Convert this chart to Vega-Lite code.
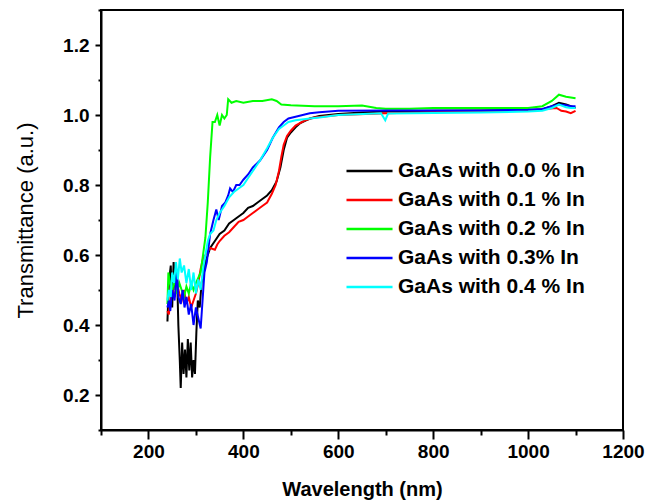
{
  "$schema": "https://vega.github.io/schema/vega-lite/v6.json",
  "width": 522,
  "height": 420,
  "autosize": "none",
  "padding": {"left": 101, "top": 10, "right": 22, "bottom": 71},
  "background": "white",
  "config": {
    "font": "Liberation Sans",
    "view": {"stroke": "black", "strokeWidth": 2}
  },
  "data": {"values": [
    {"s":"0.0","w":240,"t":0.41},{"s":"0.0","w":243,"t":0.52},{"s":"0.0","w":247,"t":0.57},{"s":"0.0","w":250,"t":0.45},{"s":"0.0","w":253,"t":0.58},{"s":"0.0","w":257,"t":0.5},{"s":"0.0","w":260,"t":0.56},{"s":"0.0","w":263,"t":0.4},{"s":"0.0","w":266,"t":0.3},{"s":"0.0","w":268,"t":0.22},{"s":"0.0","w":271,"t":0.35},{"s":"0.0","w":274,"t":0.26},{"s":"0.0","w":277,"t":0.33},{"s":"0.0","w":280,"t":0.25},{"s":"0.0","w":283,"t":0.36},{"s":"0.0","w":286,"t":0.27},{"s":"0.0","w":289,"t":0.35},{"s":"0.0","w":292,"t":0.25},{"s":"0.0","w":295,"t":0.3},{"s":"0.0","w":298,"t":0.26},{"s":"0.0","w":301,"t":0.38},{"s":"0.0","w":304,"t":0.47},{"s":"0.0","w":308,"t":0.45},{"s":"0.0","w":312,"t":0.52},{"s":"0.0","w":316,"t":0.55},{"s":"0.0","w":320,"t":0.58},{"s":"0.0","w":325,"t":0.6},{"s":"0.0","w":330,"t":0.62},{"s":"0.0","w":340,"t":0.64},{"s":"0.0","w":350,"t":0.66},{"s":"0.0","w":360,"t":0.67},{"s":"0.0","w":370,"t":0.69},{"s":"0.0","w":380,"t":0.7},{"s":"0.0","w":390,"t":0.71},{"s":"0.0","w":400,"t":0.72},{"s":"0.0","w":410,"t":0.735},{"s":"0.0","w":420,"t":0.74},{"s":"0.0","w":430,"t":0.75},{"s":"0.0","w":440,"t":0.76},{"s":"0.0","w":450,"t":0.77},{"s":"0.0","w":460,"t":0.785},{"s":"0.0","w":470,"t":0.81},{"s":"0.0","w":478,"t":0.85},{"s":"0.0","w":485,"t":0.9},{"s":"0.0","w":492,"t":0.935},{"s":"0.0","w":500,"t":0.95},{"s":"0.0","w":510,"t":0.965},{"s":"0.0","w":520,"t":0.977},{"s":"0.0","w":540,"t":0.99},{"s":"0.0","w":560,"t":0.997},{"s":"0.0","w":600,"t":1.003},{"s":"0.0","w":650,"t":1.007},{"s":"0.0","w":700,"t":1.01},{"s":"0.0","w":800,"t":1.012},{"s":"0.0","w":900,"t":1.013},{"s":"0.0","w":1000,"t":1.014},{"s":"0.0","w":1030,"t":1.016},{"s":"0.0","w":1050,"t":1.025},{"s":"0.0","w":1065,"t":1.035},{"s":"0.0","w":1080,"t":1.03},{"s":"0.0","w":1090,"t":1.025},{"s":"0.0","w":1100,"t":1.02},

    {"s":"0.1","w":240,"t":0.44},{"s":"0.1","w":243,"t":0.43},{"s":"0.1","w":246,"t":0.47},{"s":"0.1","w":250,"t":0.5},{"s":"0.1","w":255,"t":0.48},{"s":"0.1","w":260,"t":0.52},{"s":"0.1","w":265,"t":0.49},{"s":"0.1","w":270,"t":0.47},{"s":"0.1","w":275,"t":0.5},{"s":"0.1","w":280,"t":0.46},{"s":"0.1","w":285,"t":0.48},{"s":"0.1","w":290,"t":0.45},{"s":"0.1","w":295,"t":0.47},{"s":"0.1","w":300,"t":0.49},{"s":"0.1","w":305,"t":0.52},{"s":"0.1","w":310,"t":0.56},{"s":"0.1","w":315,"t":0.59},{"s":"0.1","w":320,"t":0.6},{"s":"0.1","w":325,"t":0.61},{"s":"0.1","w":330,"t":0.62},{"s":"0.1","w":340,"t":0.615},{"s":"0.1","w":345,"t":0.63},{"s":"0.1","w":350,"t":0.64},{"s":"0.1","w":360,"t":0.655},{"s":"0.1","w":370,"t":0.665},{"s":"0.1","w":380,"t":0.68},{"s":"0.1","w":390,"t":0.695},{"s":"0.1","w":400,"t":0.7},{"s":"0.1","w":410,"t":0.71},{"s":"0.1","w":420,"t":0.72},{"s":"0.1","w":430,"t":0.73},{"s":"0.1","w":440,"t":0.74},{"s":"0.1","w":450,"t":0.75},{"s":"0.1","w":460,"t":0.775},{"s":"0.1","w":468,"t":0.8},{"s":"0.1","w":475,"t":0.84},{"s":"0.1","w":480,"t":0.88},{"s":"0.1","w":485,"t":0.915},{"s":"0.1","w":492,"t":0.94},{"s":"0.1","w":500,"t":0.955},{"s":"0.1","w":510,"t":0.97},{"s":"0.1","w":530,"t":0.985},{"s":"0.1","w":550,"t":0.993},{"s":"0.1","w":600,"t":1.0},{"s":"0.1","w":700,"t":1.005},{"s":"0.1","w":800,"t":1.008},{"s":"0.1","w":900,"t":1.01},{"s":"0.1","w":1000,"t":1.012},{"s":"0.1","w":1040,"t":1.018},{"s":"0.1","w":1060,"t":1.02},{"s":"0.1","w":1070,"t":1.012},{"s":"0.1","w":1080,"t":1.01},{"s":"0.1","w":1090,"t":1.005},{"s":"0.1","w":1100,"t":1.012},

    {"s":"0.2","w":240,"t":0.46},{"s":"0.2","w":242,"t":0.55},{"s":"0.2","w":245,"t":0.52},{"s":"0.2","w":250,"t":0.5},{"s":"0.2","w":255,"t":0.53},{"s":"0.2","w":260,"t":0.49},{"s":"0.2","w":265,"t":0.52},{"s":"0.2","w":270,"t":0.5},{"s":"0.2","w":275,"t":0.48},{"s":"0.2","w":280,"t":0.51},{"s":"0.2","w":285,"t":0.49},{"s":"0.2","w":290,"t":0.52},{"s":"0.2","w":295,"t":0.5},{"s":"0.2","w":300,"t":0.52},{"s":"0.2","w":310,"t":0.55},{"s":"0.2","w":315,"t":0.6},{"s":"0.2","w":320,"t":0.65},{"s":"0.2","w":325,"t":0.75},{"s":"0.2","w":330,"t":0.88},{"s":"0.2","w":335,"t":0.98},{"s":"0.2","w":340,"t":0.98},{"s":"0.2","w":345,"t":1.0},{"s":"0.2","w":350,"t":0.97},{"s":"0.2","w":355,"t":1.0},{"s":"0.2","w":360,"t":0.99},{"s":"0.2","w":365,"t":1.0},{"s":"0.2","w":368,"t":1.045},{"s":"0.2","w":375,"t":1.035},{"s":"0.2","w":385,"t":1.04},{"s":"0.2","w":400,"t":1.035},{"s":"0.2","w":420,"t":1.04},{"s":"0.2","w":440,"t":1.04},{"s":"0.2","w":460,"t":1.045},{"s":"0.2","w":470,"t":1.04},{"s":"0.2","w":480,"t":1.03},{"s":"0.2","w":500,"t":1.028},{"s":"0.2","w":550,"t":1.025},{"s":"0.2","w":600,"t":1.025},{"s":"0.2","w":650,"t":1.027},{"s":"0.2","w":680,"t":1.02},{"s":"0.2","w":700,"t":1.018},{"s":"0.2","w":750,"t":1.018},{"s":"0.2","w":800,"t":1.02},{"s":"0.2","w":850,"t":1.02},{"s":"0.2","w":900,"t":1.02},{"s":"0.2","w":950,"t":1.02},{"s":"0.2","w":1000,"t":1.02},{"s":"0.2","w":1030,"t":1.025},{"s":"0.2","w":1050,"t":1.04},{"s":"0.2","w":1065,"t":1.058},{"s":"0.2","w":1080,"t":1.052},{"s":"0.2","w":1090,"t":1.05},{"s":"0.2","w":1100,"t":1.048},

    {"s":"0.3","w":240,"t":0.45},{"s":"0.3","w":243,"t":0.47},{"s":"0.3","w":246,"t":0.44},{"s":"0.3","w":250,"t":0.5},{"s":"0.3","w":255,"t":0.47},{"s":"0.3","w":260,"t":0.55},{"s":"0.3","w":263,"t":0.48},{"s":"0.3","w":268,"t":0.46},{"s":"0.3","w":272,"t":0.5},{"s":"0.3","w":276,"t":0.45},{"s":"0.3","w":280,"t":0.48},{"s":"0.3","w":285,"t":0.43},{"s":"0.3","w":290,"t":0.46},{"s":"0.3","w":295,"t":0.4},{"s":"0.3","w":300,"t":0.45},{"s":"0.3","w":305,"t":0.42},{"s":"0.3","w":310,"t":0.39},{"s":"0.3","w":313,"t":0.45},{"s":"0.3","w":318,"t":0.55},{"s":"0.3","w":323,"t":0.58},{"s":"0.3","w":330,"t":0.66},{"s":"0.3","w":337,"t":0.7},{"s":"0.3","w":343,"t":0.73},{"s":"0.3","w":348,"t":0.7},{"s":"0.3","w":355,"t":0.74},{"s":"0.3","w":362,"t":0.75},{"s":"0.3","w":368,"t":0.77},{"s":"0.3","w":372,"t":0.79},{"s":"0.3","w":378,"t":0.78},{"s":"0.3","w":385,"t":0.8},{"s":"0.3","w":392,"t":0.8},{"s":"0.3","w":400,"t":0.815},{"s":"0.3","w":410,"t":0.83},{"s":"0.3","w":420,"t":0.85},{"s":"0.3","w":435,"t":0.87},{"s":"0.3","w":450,"t":0.9},{"s":"0.3","w":462,"t":0.935},{"s":"0.3","w":475,"t":0.965},{"s":"0.3","w":485,"t":0.98},{"s":"0.3","w":495,"t":0.99},{"s":"0.3","w":510,"t":0.995},{"s":"0.3","w":540,"t":1.005},{"s":"0.3","w":560,"t":1.008},{"s":"0.3","w":600,"t":1.012},{"s":"0.3","w":700,"t":1.013},{"s":"0.3","w":800,"t":1.013},{"s":"0.3","w":900,"t":1.013},{"s":"0.3","w":1000,"t":1.015},{"s":"0.3","w":1030,"t":1.017},{"s":"0.3","w":1050,"t":1.025},{"s":"0.3","w":1065,"t":1.03},{"s":"0.3","w":1080,"t":1.028},{"s":"0.3","w":1090,"t":1.025},{"s":"0.3","w":1100,"t":1.025},

    {"s":"0.4","w":240,"t":0.47},{"s":"0.4","w":243,"t":0.5},{"s":"0.4","w":247,"t":0.48},{"s":"0.4","w":250,"t":0.55},{"s":"0.4","w":254,"t":0.52},{"s":"0.4","w":258,"t":0.58},{"s":"0.4","w":262,"t":0.53},{"s":"0.4","w":266,"t":0.59},{"s":"0.4","w":270,"t":0.55},{"s":"0.4","w":275,"t":0.57},{"s":"0.4","w":280,"t":0.52},{"s":"0.4","w":285,"t":0.56},{"s":"0.4","w":290,"t":0.5},{"s":"0.4","w":295,"t":0.55},{"s":"0.4","w":300,"t":0.49},{"s":"0.4","w":305,"t":0.53},{"s":"0.4","w":310,"t":0.5},{"s":"0.4","w":315,"t":0.56},{"s":"0.4","w":320,"t":0.6},{"s":"0.4","w":325,"t":0.64},{"s":"0.4","w":330,"t":0.66},{"s":"0.4","w":337,"t":0.67},{"s":"0.4","w":343,"t":0.7},{"s":"0.4","w":350,"t":0.72},{"s":"0.4","w":360,"t":0.74},{"s":"0.4","w":370,"t":0.765},{"s":"0.4","w":380,"t":0.78},{"s":"0.4","w":390,"t":0.79},{"s":"0.4","w":400,"t":0.8},{"s":"0.4","w":410,"t":0.82},{"s":"0.4","w":420,"t":0.84},{"s":"0.4","w":435,"t":0.87},{"s":"0.4","w":450,"t":0.905},{"s":"0.4","w":462,"t":0.935},{"s":"0.4","w":475,"t":0.96},{"s":"0.4","w":485,"t":0.97},{"s":"0.4","w":495,"t":0.98},{"s":"0.4","w":510,"t":0.985},{"s":"0.4","w":540,"t":0.99},{"s":"0.4","w":560,"t":0.993},{"s":"0.4","w":600,"t":1.0},{"s":"0.4","w":690,"t":1.005},{"s":"0.4","w":699,"t":0.985},{"s":"0.4","w":705,"t":1.004},{"s":"0.4","w":800,"t":1.006},{"s":"0.4","w":900,"t":1.007},{"s":"0.4","w":1000,"t":1.01},{"s":"0.4","w":1030,"t":1.012},{"s":"0.4","w":1050,"t":1.02},{"s":"0.4","w":1065,"t":1.03},{"s":"0.4","w":1080,"t":1.022},{"s":"0.4","w":1090,"t":1.02},{"s":"0.4","w":1100,"t":1.02}
  ]},
  "mark": {"type": "line", "strokeWidth": 2},
  "encoding": {
    "x": {
      "field": "w", "type": "quantitative",
      "scale": {"domain": [100, 1200], "nice": false, "zero": false},
      "axis": {
        "title": "Wavelength (nm)",
        "values": [100,200,300,400,500,600,700,800,900,1000,1100,1200],
        "labelExpr": "datum.value % 200 === 0 ? datum.label : ''",
        "format": "d",
        "grid": false,
        "domainColor": "black", "domainWidth": 2,
        "tickColor": "black", "tickWidth": 2,
        "tickSize": {"condition": {"test": "datum.value % 200 === 0", "value": 9}, "value": 5},
        "labelFont": "Liberation Sans", "labelFontSize": 19, "labelFontWeight": "bold", "labelColor": "black",
        "labelPadding": 3, "labelFlush": false, "labelOverlap": false,
        "titleFont": "Liberation Sans", "titleFontSize": 20, "titleFontWeight": "bold", "titleColor": "black",
        "titlePadding": 18
      }
    },
    "y": {
      "field": "t", "type": "quantitative",
      "scale": {"domain": [0.1, 1.3], "nice": false, "zero": false},
      "axis": {
        "title": "Transmittance (a.u.)",
        "values": [0.1,0.2,0.3,0.4,0.5,0.6,0.7,0.8,0.9,1.0,1.1,1.2,1.3],
        "labelExpr": "(round(datum.value*10) % 2 === 0 && datum.value < 1.25) ? format(datum.value, '.1f') : ''",
        "grid": false,
        "domainColor": "black", "domainWidth": 2,
        "tickColor": "black", "tickWidth": 2,
        "tickSize": {"condition": {"test": "round(datum.value*10) % 2 === 0 && datum.value < 1.25", "value": 6}, "value": 3},
        "labelFont": "Liberation Sans", "labelFontSize": 19, "labelFontWeight": "bold", "labelColor": "black",
        "labelPadding": 6, "labelFlush": false, "labelOverlap": false,
        "titleFont": "Liberation Sans", "titleFontSize": 22, "titleFontWeight": "normal", "titleColor": "black",
        "titlePadding": 25
      }
    },
    "color": {
      "field": "s", "type": "nominal",
      "scale": {"domain": ["0.0","0.1","0.2","0.3","0.4"], "range": ["#000000","#FF0000","#00FF00","#0000FF","#00FFFF"]},
      "legend": {
        "title": null,
        "orient": "none",
        "legendX": 244,
        "legendY": 148,
        "padding": 0,
        "symbolType": "M-1,0H3",
        "symbolSize": 530,
        "symbolStrokeWidth": 2.5,
        "labelExpr": "datum.label === '0.3' ? 'GaAs with 0.3% In' : 'GaAs with ' + datum.label + ' % In'",
        "labelFont": "Liberation Sans", "labelFontSize": 21, "labelFontWeight": "bold", "labelColor": "black",
        "labelLimit": 400, "labelOffset": 27,
        "rowPadding": 6
      }
    }
  }
}
